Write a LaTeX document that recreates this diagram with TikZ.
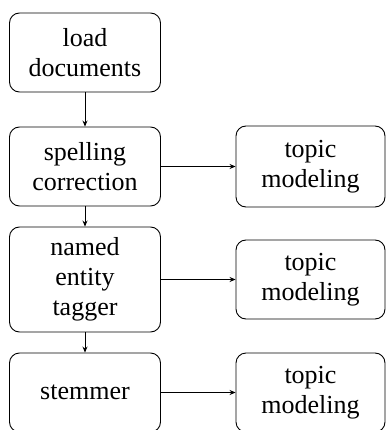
\documentclass[tikz,border=0pt]{standalone}
\usepackage{fontspec}
\setmainfont{Liberation Serif}
\usetikzlibrary{arrows.meta}
\begin{document}
\begin{tikzpicture}[x=1pt,y=1pt,
  box/.style={draw,rounded corners=10pt,line width=0.9pt,inner sep=0pt,
    text width=145pt,align=center,minimum width=151pt,
    font=\fontsize{26}{30}\selectfont},
  arr/.style={line width=0.8pt,-{Stealth[length=6pt,width=5pt]}}]
\useasboundingbox (0,0) rectangle (385,-430);
\node[box,minimum height=79pt] (load) at (85,-52.5) {load\\documents};
\node[box,minimum height=79pt] (spell) at (85,-166.5) {spelling\\correction};
\node[box,minimum height=105pt] (ner) at (85,-279.5) {named\\entity\\tagger};
\node[box,minimum height=79pt] (stem) at (85,-392.5) {stemmer};
\node[box,minimum height=81pt,minimum width=149pt] (t1) at (310.5,-166.5) {topic\\modeling};
\node[box,minimum height=79pt,minimum width=149pt] (t2) at (310.5,-279.5) {topic\\modeling};
\node[box,minimum height=79pt,minimum width=149pt] (t3) at (310.5,-392.5) {topic\\modeling};
\draw[arr] (load) -- (spell);
\draw[arr] (spell) -- (ner);
\draw[arr] (ner) -- (stem);
\draw[arr] (spell) -- (t1);
\draw[arr] (ner) -- (t2);
\draw[arr] (stem) -- (t3);
\end{tikzpicture}
\end{document}
